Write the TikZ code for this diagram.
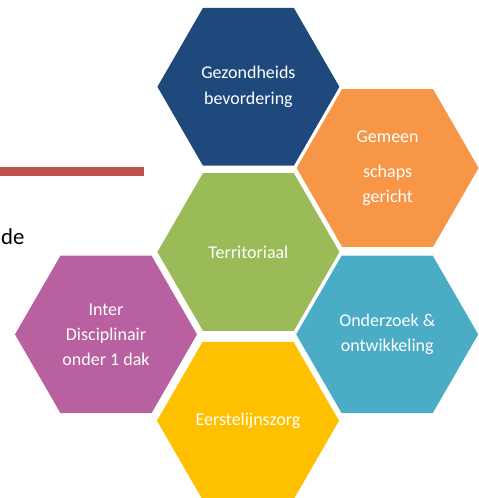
\documentclass[tikz,border=0pt]{standalone}
\usepackage{fontspec}
\setmainfont{Carlito}
\usetikzlibrary{shapes.geometric}

\definecolor{hexblue}{RGB}{31,73,125}
\definecolor{hexorange}{RGB}{247,150,70}
\definecolor{hexgreen}{RGB}{155,187,89}
\definecolor{hexteal}{RGB}{75,172,198}
\definecolor{hexpurple}{RGB}{185,96,160}
\definecolor{hexyellow}{RGB}{255,192,0}
\definecolor{barred}{RGB}{192,80,77}

\begin{document}
\begin{tikzpicture}[hexa/.style={regular polygon, regular polygon sides=6, minimum size=4.55cm, inner sep=0pt, text=white, align=center, font=\fontsize{12.8}{17.8}\selectfont}]
          \useasboundingbox (0,0) rectangle (11.95,12.45);

          \fill[barred] (0,8.05) rectangle (3.6,8.27);
          \node[anchor=base west, inner sep=0pt, font=\fontsize{16.2}{20}\selectfont] (de) at (0.02,6.33) {de};

          \node[hexa, fill=hexblue] (gezond) at (6.21,10.28) {Gezondheids\\bevordering};
          \node[hexa, fill=hexorange] (gemeen) at (9.69,8.25) {Gemeen\\[0.24cm]schaps\\gericht};
          \node[hexa, fill=hexgreen] (terr) at (6.21,6.15) {Territoriaal};
          \node[hexa, fill=hexpurple] (inter) at (2.65,4.09) {Inter\\Disciplinair\\onder 1 dak};
          \node[hexa, fill=hexteal] (onderzoek) at (9.68,4.09) {Onderzoek \&\\ontwikkeling};
          \node[hexa, fill=hexyellow] (eerste) at (6.2,1.93) {Eerstelijnszorg};
        \end{tikzpicture}
\end{document}
